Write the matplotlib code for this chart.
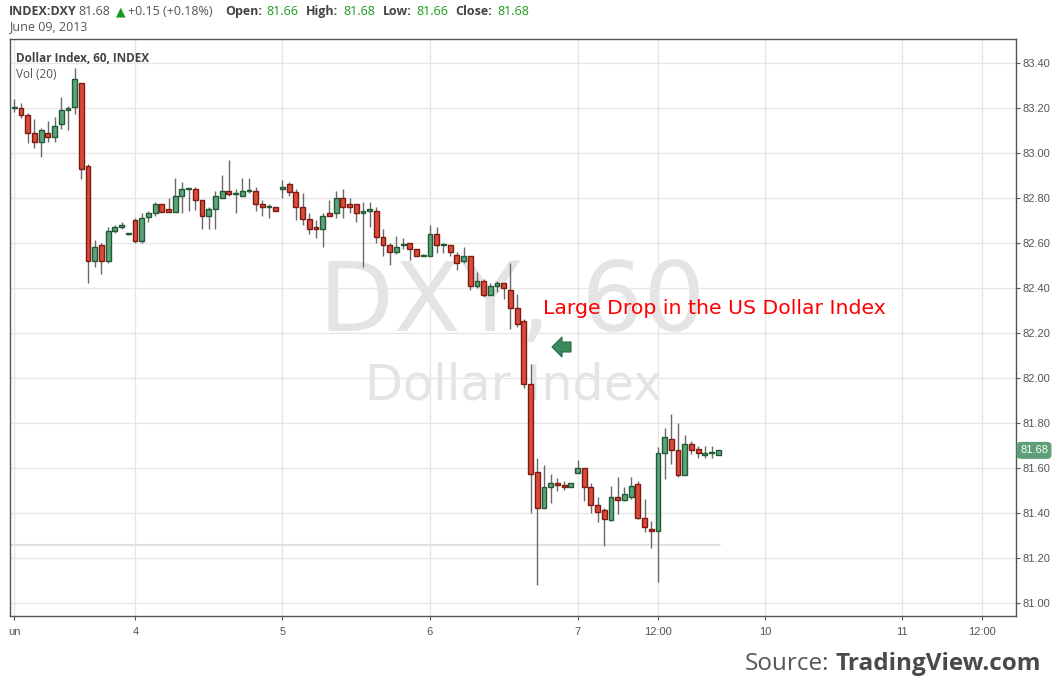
import numpy as np
import matplotlib
matplotlib.use("Agg")
import matplotlib.pyplot as plt
import matplotlib.transforms as mtransforms
from matplotlib.patches import Polygon

# hourly DXY candles, Jun 3 - Jun 7 2013
opens = [83.200, 83.200, 83.169, 83.089, 83.049, 83.089, 83.071, 83.129, 83.191, 83.207,
         83.311, 82.942, 82.520, 82.593, 82.520, 82.653, 82.671, 82.640, 82.702, 82.610,
         82.719, 82.733, 82.773, 82.751, 82.741, 82.809, 82.841, 82.841, 82.791, 82.720,
         82.751, 82.800, 82.831, 82.820, 82.809, 82.831, 82.831, 82.773, 82.760, 82.760,
         82.840, 82.862, 82.830, 82.760, 82.710, 82.671, 82.662, 82.733, 82.733, 82.800,
         82.773, 82.773, 82.733, 82.742, 82.742, 82.630, 82.591, 82.560, 82.591, 82.600,
         82.573, 82.542, 82.542, 82.640, 82.591, 82.591, 82.550, 82.520, 82.542, 82.412,
         82.431, 82.372, 82.412, 82.422, 82.391, 82.311, 82.255, 81.973, 81.582, 81.422,
         81.516, 81.533, 81.524, 81.516, 81.579, 81.602, 81.516, 81.436, 81.413, 81.371,
         81.472, 81.460, 81.472, 81.531, 81.379, 81.331, 81.321, 81.669, 81.731, 81.680,
         81.569, 81.707, 81.687, 81.659, 81.667, 81.658]
highs = [83.240, 83.224, 83.181, 83.151, 83.111, 83.144, 83.161, 83.250, 83.210, 83.380,
         83.311, 82.953, 82.615, 82.603, 82.671, 82.681, 82.695, 82.643, 82.714, 82.733,
         82.744, 82.784, 82.775, 82.803, 82.892, 82.873, 82.845, 82.852, 82.791, 82.761,
         82.831, 82.902, 82.970, 82.841, 82.889, 82.889, 82.850, 82.793, 82.775, 82.760,
         82.881, 82.873, 82.840, 82.824, 82.735, 82.705, 82.733, 82.793, 82.833, 82.840,
         82.800, 82.773, 82.784, 82.782, 82.760, 82.662, 82.600, 82.633, 82.622, 82.600,
         82.573, 82.553, 82.680, 82.671, 82.600, 82.591, 82.560, 82.582, 82.542, 82.473,
         82.440, 82.422, 82.433, 82.422, 82.511, 82.373, 82.264, 82.062, 81.644, 81.615,
         81.575, 81.556, 81.544, 81.533, 81.635, 81.602, 81.533, 81.474, 81.422, 81.522,
         81.562, 81.516, 81.562, 81.542, 81.462, 81.364, 81.694, 81.778, 81.842, 81.800,
         81.748, 81.721, 81.698, 81.698, 81.698, 81.680]
lows = [83.185, 83.156, 83.044, 83.025, 82.985, 83.052, 83.049, 83.107, 83.104, 83.173,
        82.884, 82.425, 82.496, 82.465, 82.514, 82.644, 82.665, 82.638, 82.603, 82.603,
        82.696, 82.723, 82.738, 82.738, 82.741, 82.736, 82.745, 82.750, 82.665, 82.665,
        82.665, 82.800, 82.810, 82.736, 82.809, 82.822, 82.745, 82.723, 82.714, 82.742,
        82.803, 82.812, 82.705, 82.683, 82.643, 82.624, 82.585, 82.720, 82.714, 82.714,
        82.736, 82.696, 82.496, 82.674, 82.603, 82.545, 82.505, 82.553, 82.575, 82.526,
        82.542, 82.542, 82.542, 82.556, 82.556, 82.545, 82.481, 82.511, 82.394, 82.403,
        82.361, 82.372, 82.385, 82.354, 82.218, 82.227, 81.956, 81.400, 81.081, 81.422,
        81.444, 81.498, 81.504, 81.516, 81.579, 81.456, 81.400, 81.360, 81.256, 81.365,
        81.398, 81.456, 81.463, 81.373, 81.318, 81.245, 81.094, 81.555, 81.621, 81.561,
        81.569, 81.662, 81.644, 81.644, 81.644, 81.658]
closes = [83.202, 83.169, 83.089, 83.049, 83.102, 83.071, 83.120, 83.191, 83.200, 83.329,
          82.929, 82.520, 82.582, 82.520, 82.653, 82.671, 82.681, 82.641, 82.610, 82.711,
          82.733, 82.773, 82.741, 82.741, 82.809, 82.841, 82.842, 82.791, 82.720, 82.751,
          82.809, 82.831, 82.821, 82.821, 82.831, 82.832, 82.773, 82.760, 82.761, 82.742,
          82.849, 82.830, 82.760, 82.710, 82.662, 82.662, 82.721, 82.720, 82.800, 82.760,
          82.760, 82.733, 82.742, 82.753, 82.630, 82.591, 82.560, 82.582, 82.592, 82.573,
          82.542, 82.543, 82.640, 82.591, 82.592, 82.560, 82.511, 82.542, 82.412, 82.431,
          82.372, 82.412, 82.422, 82.401, 82.311, 82.241, 81.973, 81.573, 81.422, 81.516,
          81.533, 81.524, 81.516, 81.533, 81.602, 81.516, 81.436, 81.404, 81.373, 81.472,
          81.460, 81.484, 81.522, 81.379, 81.341, 81.321, 81.669, 81.740, 81.682, 81.569,
          81.707, 81.680, 81.667, 81.667, 81.668, 81.680]

# time axis ticks (in candle units)
tick_pos = [0, 18.05, 39.97, 62.0, 84.05, 96.05, 111.96, 132.4, 144.3]
tick_labels = ["un", "4", "5", "6", "7", "12:00", "10", "11", "12:00"]
price_ticks = [81.0, 81.2, 81.4, 81.6, 81.8, 82.0, 82.2, 82.4, 82.6, 82.8, 83.0, 83.2, 83.4]
last_price = 81.68
hline_price = 81.262

W, H = 1056, 687
fig = plt.figure(figsize=(W / 100, H / 100), dpi=100, facecolor="white")
ax = fig.add_axes([10 / W, 1 - 616 / H, 1006 / W, 577 / H])

def fx(px):
    return px / W

def fy(py):
    return 1 - py / H

o = np.array(opens)
h = np.array(highs)
l = np.array(lows)
c = np.array(closes)
x = np.arange(len(o))
up = c >= o

up_fill, up_edge = "#5fa37a", "#1f5a34"
dn_fill, dn_edge = "#d94b3b", "#7d1b12"

# watermark
ax.text(fx(512), fy(331), "DXY, 60", transform=fig.transFigure, fontsize=70, color="#e4e4e4",
        family="DejaVu Sans", ha="center", va="baseline", zorder=0.2)
ax.text(fx(514), fy(399), "Dollar Index", transform=fig.transFigure, fontsize=35.5,
        color="#e4e4e4", family="DejaVu Sans", ha="center", va="baseline", zorder=0.2)

ax.vlines(x, l, h, color="#6a6a6a", lw=1, zorder=2)
body_lo = np.minimum(o, c)
body_h = np.maximum(np.abs(c - o), 0.004)
ax.bar(x[up], body_h[up], bottom=body_lo[up], width=0.72, color=up_fill,
       edgecolor=up_edge, linewidth=1, zorder=3)
ax.bar(x[~up], body_h[~up], bottom=body_lo[~up], width=0.72, color=dn_fill,
       edgecolor=dn_edge, linewidth=1, zorder=3)

ax.set_xlim(-0.64, 149.4)
ax.set_ylim(80.944, 83.508)

ax.hlines(hline_price + 0.002, -0.64, 105.3, color="#cfe3f2", lw=0.8, zorder=1)
ax.hlines(hline_price - 0.003, -0.64, 105.3, color="#ece2dc", lw=0.8, zorder=1)

ax.set_xticks(tick_pos)
ax.set_xticklabels(tick_labels)
ax.set_yticks(price_ticks)
ax.set_yticklabels([f"{p:.2f}" for p in price_ticks])
ax.yaxis.tick_right()
ax.tick_params(axis="both", colors="#555555", labelsize=8, length=3, width=0.8)
ax.tick_params(axis="x", pad=5)
ax.tick_params(axis="y", pad=2)
for lab in ax.get_xticklabels() + ax.get_yticklabels():
    lab.set_family("Liberation Sans")
ax.grid(True, color="#e6e6e6", lw=1)
ax.set_axisbelow(True)
for s in ax.spines.values():
    s.set_color("#555555")
    s.set_linewidth(1)

# last price badge
trans = mtransforms.blended_transform_factory(ax.transAxes, ax.transData)
ax.text(1.004, last_price, "81.68", transform=trans, ha="left", va="center",
        fontsize=8, color="white", family="Liberation Sans",
        bbox=dict(boxstyle="round,pad=0.25,rounding_size=0.3", fc="#5e9f78", ec="#5e9f78"))

# legend-ish labels inside the chart
fig.text(fx(16), fy(62), "Dollar Index, 60, INDEX", fontsize=8.5, weight="bold",
         color="#444444", family="Open Sans", va="baseline")
fig.text(fx(16), fy(78), "Vol (20)", fontsize=8.5, color="#555555",
         family="Open Sans", va="baseline")

# header line
hdr = [(8.6, "INDEX:DXY", "bold", "#444444"),
       (78.6, "81.68", "normal", "#555555"),
       (116.0, "\u25b2", "normal", "#1a9a1a"),
       (128.0, "+0.15 (+0.18%)", "normal", "#555555"),
       (225.0, "Open:", "bold", "#444444"),
       (266.6, "81.66", "normal", "#1a9a1a"),
       (306.0, "High:", "bold", "#444444"),
       (343.8, "81.68", "normal", "#1a9a1a"),
       (382.8, "Low:", "bold", "#444444"),
       (416.0, "81.66", "normal", "#1a9a1a"),
       (455.0, "Close:", "bold", "#444444"),
       (497.0, "81.68", "normal", "#1a9a1a")]
for px, txt, wt, col in hdr:
    fig.text(fx(px), fy(15), txt, fontsize=9, weight=wt, color=col,
             family=["Open Sans", "DejaVu Sans"], va="baseline")
fig.text(fx(8.6), fy(30), "June 09, 2013", fontsize=9, color="#555555",
         family="Open Sans", va="baseline")

# annotation
fig.text(fx(543), fy(314), "Large Drop in the US Dollar Index", fontsize=14.7,
         color="#ff0000", family="DejaVu Sans", va="baseline")
arrow_px = [(552, 347), (562, 337), (562, 342), (571, 342), (571, 352), (562, 352), (562, 357)]
arrow = Polygon([(fx(a), fy(b)) for a, b in arrow_px], closed=True, transform=fig.transFigure,
                fc="#3b8a5e", ec="#2a6b45", lw=0.8)
fig.patches.append(arrow)

# source
fig.text(fx(745), fy(670), "Source:", fontsize=17.5, color="#555555", family="Open Sans",
         va="baseline")
fig.text(fx(836), fy(670), "TradingView.com", fontsize=17.5, weight="bold", color="#4a4a4a",
         family="Open Sans", va="baseline")

fig.savefig("out.png", dpi=100)
